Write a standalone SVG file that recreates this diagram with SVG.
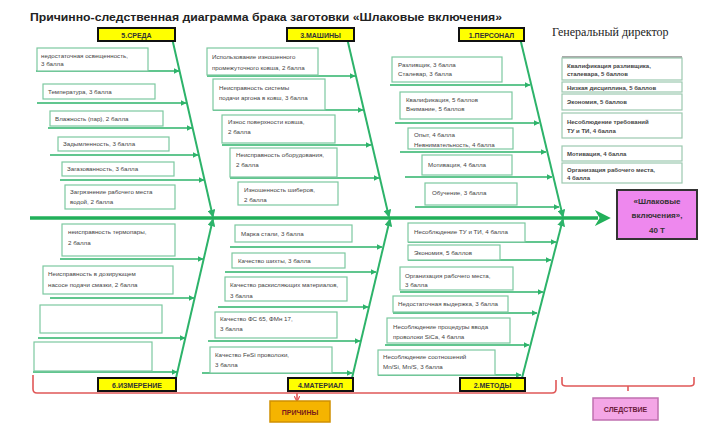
<svg xmlns="http://www.w3.org/2000/svg" width="701" height="428" viewBox="0 0 701 428">
<style>
text{font-family:"Liberation Sans",Arial,sans-serif;fill:#333}
.title{font-size:11.5px;font-weight:bold;fill:#222}
.cb rect{fill:#ffff00;stroke:#111;stroke-width:2}
.cb text{font-size:7px;font-weight:bold;text-anchor:middle;fill:#333}
.bx rect{fill:#fff;stroke:#7cc9a0;stroke-width:1.2}
.bx text{font-size:6.2px;fill:#444}
.rl rect{fill:#fff;stroke:#9cc9b0;stroke-width:1.2}
.rl text{font-size:6px;font-weight:bold;fill:#444}
.bone{stroke:#2db36a;stroke-width:2;fill:none}
.arr{stroke:#2db36a;stroke-width:1.6;fill:none}
.red{stroke:#e05858;stroke-width:1.6;fill:none}
</style>
<defs>
<marker id="ah" viewBox="0 0 10 10" refX="9" refY="5" markerWidth="6" markerHeight="6" orient="auto" markerUnits="userSpaceOnUse"><path d="M0,0 L10,5 L0,10 z" fill="#2db36a"/></marker>
<marker id="ahb" viewBox="0 0 10 10" refX="9" refY="5" markerWidth="8" markerHeight="8" orient="auto" markerUnits="userSpaceOnUse"><path d="M0,0 L10,5 L0,10 z" fill="#2db36a"/></marker>
<marker id="ahs" viewBox="0 0 10 10" refX="2" refY="5" markerWidth="16" markerHeight="16" orient="auto" markerUnits="userSpaceOnUse"><path d="M0,0 L10,5 L0,10 L3,5 z" fill="#22b05a"/></marker>
<marker id="ahr" viewBox="0 0 10 10" refX="9" refY="5" markerWidth="6" markerHeight="6" orient="auto" markerUnits="userSpaceOnUse"><path d="M0,0 L10,5 L0,10" fill="none" stroke="#e05858" stroke-width="2"/></marker>
</defs>
<rect width="701" height="428" fill="#fff"/>
<text class="title" x="30" y="21" textLength="472" lengthAdjust="spacingAndGlyphs">Причинно-следственная диаграмма брака заготовки «Шлаковые включения»</text>
<text x="552" y="36" style="font-family:'Liberation Serif','Times New Roman',serif;font-size:12px;fill:#222">Генеральный директор</text>

<g id="connectors">
<line x1="30" y1="218" x2="598" y2="218" stroke="#22b05a" stroke-width="3.5" marker-end="url(#ahs)"/>
<line class="bone" x1="172" y1="38" x2="213" y2="217" marker-end="url(#ahb)"/>
<line class="bone" x1="347" y1="38" x2="389" y2="217" marker-end="url(#ahb)"/>
<line class="bone" x1="520" y1="38" x2="563" y2="217" marker-end="url(#ahb)"/>
<line class="bone" x1="176" y1="378" x2="213" y2="219" marker-end="url(#ahb)"/>
<line class="bone" x1="352" y1="378" x2="390" y2="219" marker-end="url(#ahb)"/>
<line class="bone" x1="522" y1="378" x2="563" y2="219" marker-end="url(#ahb)"/>
<g class="arr">
<line x1="36" y1="71" x2="179" y2="71" marker-end="url(#ah)"/>
<line x1="37" y1="103" x2="186" y2="103" marker-end="url(#ah)"/>
<line x1="48" y1="128" x2="192" y2="128" marker-end="url(#ah)"/>
<line x1="50" y1="155" x2="198" y2="155" marker-end="url(#ah)"/>
<line x1="60" y1="180" x2="204" y2="180" marker-end="url(#ah)"/>
<line x1="60" y1="259" x2="203" y2="259" marker-end="url(#ah)"/>
<line x1="50" y1="298" x2="194" y2="298" marker-end="url(#ah)"/>
<line x1="38" y1="338" x2="185" y2="338" marker-end="url(#ah)"/>
<line x1="33" y1="372" x2="177" y2="372" marker-end="url(#ah)"/>
<line x1="207" y1="76" x2="355" y2="76" marker-end="url(#ah)"/>
<line x1="213" y1="110" x2="363" y2="110" marker-end="url(#ah)"/>
<line x1="222" y1="145" x2="371" y2="145" marker-end="url(#ah)"/>
<line x1="230" y1="178" x2="379" y2="178" marker-end="url(#ah)"/>
<line x1="230" y1="247" x2="382" y2="247" marker-end="url(#ah)"/>
<line x1="225" y1="272" x2="376" y2="272" marker-end="url(#ah)"/>
<line x1="218" y1="307" x2="368" y2="307" marker-end="url(#ah)"/>
<line x1="208" y1="341" x2="360" y2="341" marker-end="url(#ah)"/>
<line x1="202" y1="373" x2="352" y2="373" marker-end="url(#ah)"/>
<line x1="390" y1="85" x2="530" y2="85" marker-end="url(#ah)"/>
<line x1="395" y1="123" x2="539" y2="123" marker-end="url(#ah)"/>
<line x1="400" y1="152" x2="546" y2="152" marker-end="url(#ah)"/>
<line x1="405" y1="177" x2="552" y2="177" marker-end="url(#ah)"/>
<line x1="415" y1="207" x2="559" y2="207" marker-end="url(#ah)"/>
<line x1="408" y1="242" x2="556" y2="242" marker-end="url(#ah)"/>
<line x1="408" y1="260" x2="551" y2="260" marker-end="url(#ah)"/>
<line x1="400" y1="292" x2="543" y2="292" marker-end="url(#ah)"/>
<line x1="393" y1="313" x2="537" y2="313" marker-end="url(#ah)"/>
<line x1="385" y1="345" x2="529" y2="345" marker-end="url(#ah)"/>
<line x1="378" y1="375" x2="521" y2="375" marker-end="url(#ah)"/>
</g>
<path class="red" d="M33,375 L33,389 Q33,393 37,393 L552,393 Q556,393 556,389 L556,380"/>
<line class="red" x1="297" y1="393" x2="297" y2="401" marker-end="url(#ahr)"/>
<path class="red" d="M562,377 L562,383 Q562,386 566,386 L690,386 Q694,386 694,383 L694,377"/>
<line class="red" x1="628" y1="386" x2="628" y2="391"/>
</g>

<g id="cat-sreda" class="cb"><rect x="98" y="28" width="77" height="13"/><text x="136.5" y="37.5">5.СРЕДА</text></g>
<g id="cat-mashiny" class="cb"><rect x="287" y="28" width="67" height="13"/><text x="320.5" y="37.5">3.МАШИНЫ</text></g>
<g id="cat-personal" class="cb"><rect x="459" y="28" width="65" height="13"/><text x="491.5" y="37.5">1.ПЕРСОНАЛ</text></g>
<g id="cat-izmerenie" class="cb"><rect x="98" y="378" width="78" height="13"/><text x="137" y="387.5">6.ИЗМЕРЕНИЕ</text></g>
<g id="cat-material" class="cb"><rect x="288" y="378" width="65" height="13"/><text x="320.5" y="387.5">4.МАТЕРИАЛ</text></g>
<g id="cat-metody" class="cb"><rect x="460" y="378" width="65" height="13"/><text x="492.5" y="387.5">2.МЕТОДЫ</text></g>

<g id="s1" class="bx"><rect x="37" y="48" width="111" height="23"/><text x="41" y="58">недостаточная освещенность,</text><text x="41" y="66">3 балла</text></g>
<g id="s2" class="bx"><rect x="43" y="84" width="112" height="15"/><text x="48" y="94">Температура, 3 балла</text></g>
<g id="s3" class="bx"><rect x="50" y="111" width="113" height="15"/><text x="55" y="121">Влажность (пар), 2 балла</text></g>
<g id="s4" class="bx"><rect x="58" y="137" width="111" height="14"/><text x="63" y="146">Задымленность, 3 балла</text></g>
<g id="s5" class="bx"><rect x="62" y="162" width="112" height="14"/><text x="67" y="171">Загазованность, 3 балла</text></g>
<g id="s6" class="bx"><rect x="65" y="185" width="110" height="24"/><text x="70" y="194">Загрязнение рабочего места</text><text x="70" y="204">водой, 2 балла</text></g>

<g id="i1" class="bx"><rect x="62" y="224" width="113" height="32"/><text x="68" y="234">неисправность термопары,</text><text x="68" y="245">2 балла</text></g>
<g id="i2" class="bx"><rect x="43" y="266" width="130" height="28"/><text x="48" y="276">Неисправность в дозирующем</text><text x="48" y="287">насосе подачи смазки, 2 балла</text></g>
<g id="i3" class="bx"><rect x="40" y="305" width="122" height="28"/></g>
<g id="i4" class="bx"><rect x="34" y="342" width="118" height="29"/></g>

<g id="m1" class="bx"><rect x="207" y="48" width="111" height="27"/><text x="212" y="59">Использование изношенного</text><text x="212" y="70">промежуточного ковша, 2 балла</text></g>
<g id="m2" class="bx"><rect x="213" y="79" width="112" height="31"/><text x="219" y="90">Неисправность системы</text><text x="219" y="100">подачи аргона в ковш, 3 балла</text></g>
<g id="m3" class="bx"><rect x="222" y="115" width="113" height="28"/><text x="228" y="124">Износ поверхности ковша,</text><text x="228" y="134">2 балла</text></g>
<g id="m4" class="bx"><rect x="230" y="148" width="107" height="29"/><text x="236" y="157">Неисправность оборудования,</text><text x="236" y="167">2 балла</text></g>
<g id="m5" class="bx"><rect x="238" y="182" width="100" height="23"/><text x="244" y="192">Изношенность шиберов,</text><text x="244" y="202">2 балла</text></g>

<g id="t1" class="bx"><rect x="235" y="225" width="117" height="17"/><text x="241" y="236">Марка стали, 3 балла</text></g>
<g id="t2" class="bx"><rect x="232" y="253" width="113" height="15"/><text x="238" y="263">Качество шихты, 3 балла</text></g>
<g id="t3" class="bx"><rect x="225" y="277" width="122" height="24"/><text x="230" y="287">Качество раскисляющих материалов,</text><text x="230" y="298">3 балла</text></g>
<g id="t4" class="bx"><rect x="215" y="312" width="122" height="26"/><text x="220" y="321">Качество ФС 65, ФМн 17,</text><text x="220" y="331">3 балла</text></g>
<g id="t5" class="bx"><rect x="210" y="347" width="122" height="26"/><text x="215" y="357">Качество FeSi проволоки,</text><text x="215" y="367">3 балла</text></g>

<g id="p1" class="bx"><rect x="392" y="57" width="110" height="25"/><text x="398" y="67">Разливщик, 3 балла</text><text x="398" y="76">Сталевар, 3 балла</text></g>
<g id="p2" class="bx"><rect x="400" y="92" width="112" height="27"/><text x="406" y="102">Квалификация, 5 баллов</text><text x="406" y="111">Внимание, 5 баллов</text></g>
<g id="p3" class="bx"><rect x="408" y="128" width="105" height="21"/><text x="414" y="137">Опыт, 4 балла</text><text x="414" y="147">Невнимательность, 4 балла</text></g>
<g id="p4" class="bx"><rect x="422" y="155" width="90" height="20"/><text x="428" y="167">Мотивация, 4 балла</text></g>
<g id="p5" class="bx"><rect x="425" y="183" width="92" height="22"/><text x="432" y="195">Обучение, 3 балла</text></g>

<g id="d1" class="bx"><rect x="408" y="223" width="117" height="19"/><text x="414" y="234">Несоблюдение ТУ и ТИ, 4 балла</text></g>
<g id="d2" class="bx"><rect x="408" y="245" width="92" height="15"/><text x="414" y="255">Экономия, 5 баллов</text></g>
<g id="d3" class="bx"><rect x="400" y="267" width="113" height="23"/><text x="405" y="278">Организация рабочего места,</text><text x="405" y="287">3 балла</text></g>
<g id="d4" class="bx"><rect x="393" y="296" width="115" height="16"/><text x="398" y="306">Недостаточная выдержка, 3 балла</text></g>
<g id="d5" class="bx"><rect x="387" y="318" width="123" height="25"/><text x="393" y="329">Несоблюдение процедуры ввода</text><text x="393" y="339">проволоки SiCa, 4 балла</text></g>
<g id="d6" class="bx"><rect x="378" y="350" width="117" height="25"/><text x="383" y="359">Несоблюдение соотношений</text><text x="383" y="369">Mn/Si, Mn/S, 3 балла</text></g>

<g id="rank" class="rl">
<line x1="562" y1="57" x2="682" y2="57" stroke="#555" stroke-width="1.2"/>
<rect x="562" y="58" width="120" height="22"/><text x="567" y="68">Квалификация разливщика,</text><text x="567" y="76">сталевара, 5 баллов</text>
<rect x="562" y="82" width="120" height="10"/><text x="567" y="90">Низкая дисциплина, 5 баллов</text>
<rect x="562" y="94" width="120" height="16"/><text x="567" y="104">Экономия, 5 баллов</text>
<rect x="562" y="113" width="120" height="25"/><text x="567" y="124">Несоблюдение требований</text><text x="567" y="133">ТУ и ТИ, 4 балла</text>
<rect x="562" y="146" width="120" height="15"/><text x="567" y="156">Мотивация, 4 балла</text>
<rect x="562" y="163" width="120" height="20"/><text x="567" y="172">Организация рабочего места,</text><text x="567" y="180">4 балла</text>
</g>

<g id="effect"><rect x="617" y="190" width="80" height="49" fill="#ee88ee" stroke="#333" stroke-width="2"/>
<text x="657" y="204" text-anchor="middle" style="font-size:8px;font-weight:bold">«Шлаковые</text>
<text x="657" y="218" text-anchor="middle" style="font-size:8px;font-weight:bold">включения»,</text>
<text x="657" y="233" text-anchor="middle" style="font-size:8px;font-weight:bold">40 Т</text></g>

<g id="prichiny"><rect x="270" y="401" width="60" height="21" fill="#f5b400" stroke="#d09000" stroke-width="1.5"/><text x="300" y="414.5" text-anchor="middle" style="font-size:7px;font-weight:bold;fill:#7a1a1a">ПРИЧИНЫ</text></g>
<g id="sledstvie"><rect x="593" y="398" width="65" height="22" fill="#f4a6e6" stroke="#c070b0" stroke-width="1.5"/><text x="625.5" y="412" text-anchor="middle" style="font-size:7px;font-weight:bold;fill:#6a1a3a">СЛЕДСТВИЕ</text></g>
</svg>
